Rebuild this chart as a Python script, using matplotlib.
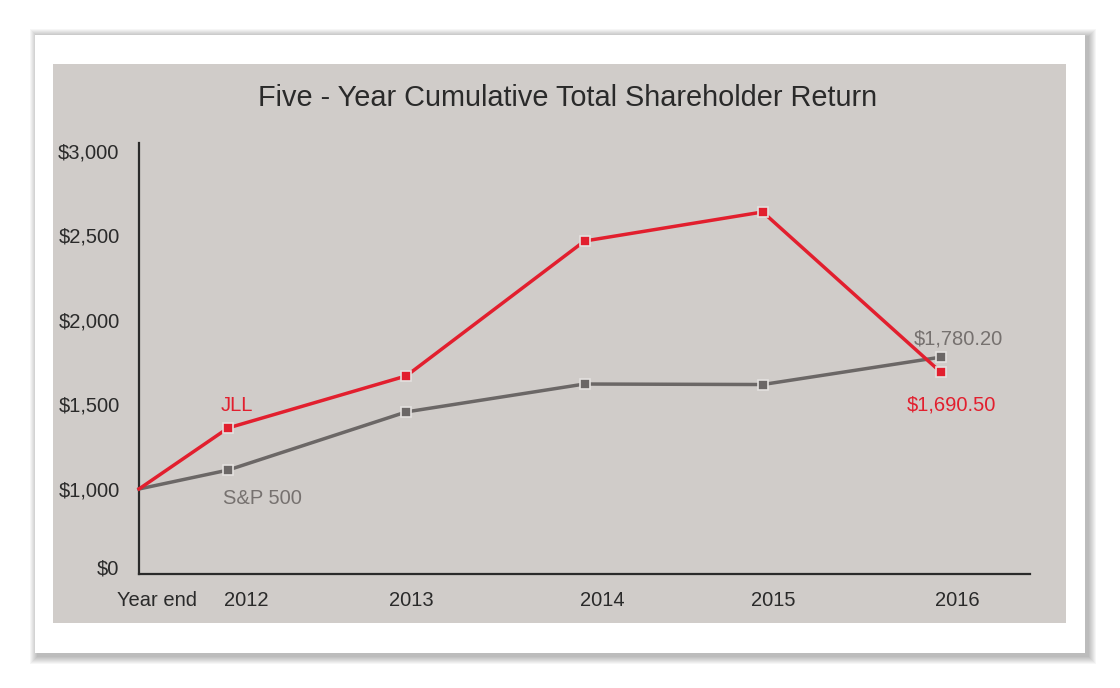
import matplotlib
matplotlib.use("Agg")
import matplotlib.pyplot as plt
from matplotlib.patches import Rectangle

plt.rcParams['font.family'] = ['Liberation Sans', 'DejaVu Sans']

# data
years = ['2012', '2013', '2014', '2015', '2016']
x_pos = [-0.5, 0, 1, 2, 3, 4]          # start point sits on the y axis
jll = [1000, 1361, 1669, 2467, 2639, 1690.5]
sp500 = [1000, 1112, 1456, 1621, 1618, 1780.2]
tick_labels = ['Year end'] + years
tick_pos = [-0.40, 0.10, 1.03, 2.10, 3.06, 4.09]
y_ticks = [1000, 1500, 2000, 2500, 3000]
y_labels = ['$1,000', '$1,500', '$2,000', '$2,500', '$3,000']
zero_pos = 538   # broken axis: "$0" drawn just under $1,000

RED = '#e21f2e'
GREY = '#6b6766'
PANEL = '#d0ccc9'
DARK = '#2a2a2a'

fig = plt.figure(figsize=(11.2, 6.88), dpi=100)
fig.patch.set_facecolor('white')

W, H = 1120, 688
def box(x0, y0, x1, y1, **kw):
    fig.patches.append(Rectangle((x0 / W, 1 - y1 / H), (x1 - x0) / W, (y1 - y0) / H,
                                 transform=fig.transFigure, **kw))

# soft shadow under the card
for d in range(8, 0, -1):
    box(35 - d + 3, 35 - d + 2, 1085 + d + 3, 653 + d + 3, facecolor='black', alpha=0.035,
        edgecolor='none', zorder=0)
box(35, 35, 1085, 653, facecolor='white', edgecolor='none', zorder=1)
box(53, 64, 1066, 623, facecolor=PANEL, edgecolor='none', zorder=2)

ax = fig.add_axes([139 / W, 114 / H, (1030 - 139) / W, (545 - 114) / H])
ax.set_facecolor('none')
ax.set_zorder(3)

ax.plot(x_pos, sp500, color=GREY, lw=2.5, zorder=3, clip_on=False)
ax.plot(x_pos[1:], sp500[1:], ls='none', marker='s', ms=7.5, color=GREY,
        mec='#e4e1df', mew=1.2, zorder=4)
ax.plot(x_pos, jll, color=RED, lw=2.5, zorder=5, clip_on=False)
ax.plot(x_pos[1:], jll[1:], ls='none', marker='s', ms=7.5, color=RED,
        mec='#e4e1df', mew=1.2, zorder=6)

ax.set_xlim(-0.5, 4.5)
ax.set_ylim(497, 3047)

for s in ['top', 'right']:
    ax.spines[s].set_visible(False)
for s in ['left', 'bottom']:
    ax.spines[s].set_color(DARK)
    ax.spines[s].set_linewidth(1.6)

ax.set_yticks([zero_pos] + y_ticks)
ax.set_yticklabels(['$0'] + y_labels)
ax.set_xticks(tick_pos)
ax.set_xticklabels(tick_labels)
ax.tick_params(axis='both', length=0, labelsize=14.5, labelcolor=DARK)
ax.tick_params(axis='y', pad=14)
ax.tick_params(axis='x', pad=12)

ax.text(0.05, jll[1] + 75, 'JLL', color=RED, fontsize=14.5, ha='center', va='bottom')
ax.text(0.19, sp500[1] - 110, 'S&P 500', color='#76716f', fontsize=14.5, ha='center', va='top')
ax.text(4.1, sp500[-1] + 50, '$1,780.20', color='#76716f', fontsize=14.5, ha='center', va='bottom')
ax.text(4.06, jll[-1] - 140, '$1,690.50', color=RED, fontsize=14.5, ha='center', va='top')

fig.text(568 / W, 1 - 98 / H, 'Five - Year Cumulative Total Shareholder Return',
         ha='center', va='center', fontsize=20.8, color=DARK, zorder=5)

fig.savefig('out.png', dpi=100)
